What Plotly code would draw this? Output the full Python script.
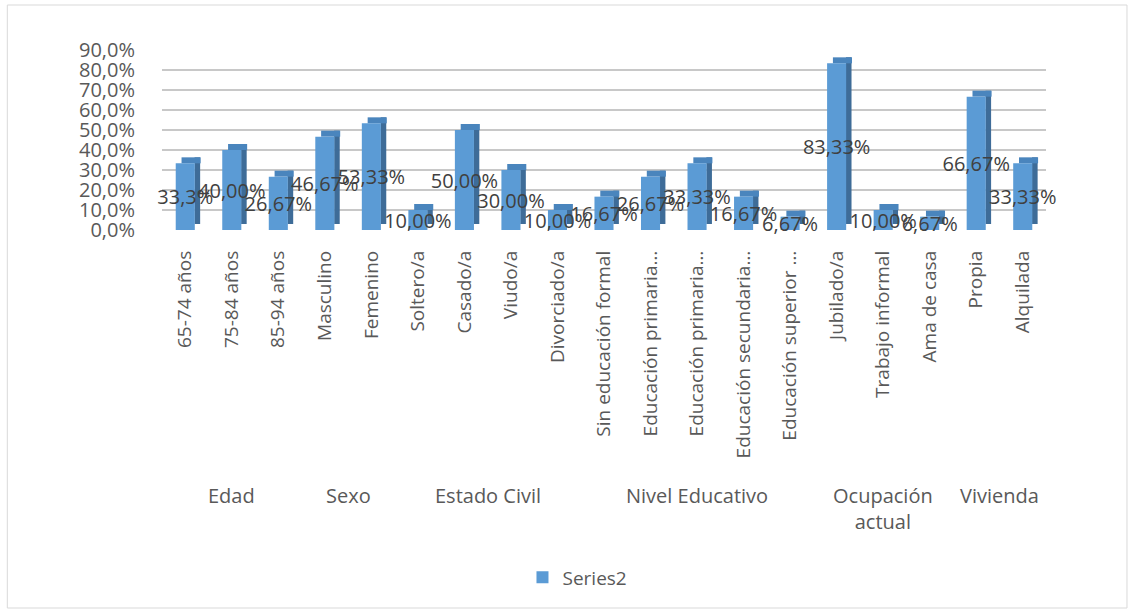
import plotly.graph_objects as go

categories = ["65-74 años", "75-84 años", "85-94 años", "Masculino", "Femenino",
              "Soltero/a", "Casado/a", "Viudo/a", "Divorciado/a",
              "Sin educación formal", "Educación primaria…", "Educación primaria…",
              "Educación secundaria…", "Educación superior …",
              "Jubilado/a", "Trabajo informal", "Ama de casa", "Propia", "Alquilada"]
values = [33.33, 40.00, 26.67, 46.67, 53.33, 10.00, 50.00, 30.00, 10.00,
          16.67, 26.67, 33.33, 16.67, 6.67, 83.33, 10.00, 6.67, 66.67, 33.33]
value_labels = ["33,3%", "40,00%", "26,67%", "46,67%", "53,33%", "10,00%", "50,00%",
                "30,00%", "10,00%", "16,67%", "26,67%", "33,33%", "16,67%", "6,67%",
                "83,33%", "10,00%", "6,67%", "66,67%", "33,33%"]
groups = ["Edad", "Sexo", "Estado Civil", "Nivel Educativo", "Ocupación<br>actual", "Vivienda"]
group_sizes = [3, 2, 4, 5, 3, 2]
y_ticks = [0, 10, 20, 30, 40, 50, 60, 70, 80, 90]
y_tick_labels = ["0,0%", "10,0%", "20,0%", "30,0%", "40,0%", "50,0%", "60,0%", "70,0%", "80,0%", "90,0%"]

FONT = "Open Sans"
FRONT = "#5B9BD5"
SIDE = "#3E6C98"
TOP = "#4A85BD"
DEPTH = 3.0
idx = list(range(len(categories)))

fig = go.Figure()
# side face (depth effect)
fig.add_trace(go.Bar(x=idx, y=values, base=DEPTH, width=0.12, offset=0.2,
                     marker=dict(color=SIDE, line=dict(width=0)),
                     showlegend=False, hoverinfo="skip"))
# top face (depth effect)
fig.add_trace(go.Bar(x=idx, y=[DEPTH] * len(values), base=values, width=0.41, offset=-0.08,
                     marker=dict(color=TOP, line=dict(width=0)),
                     showlegend=False, hoverinfo="skip"))
# front face
fig.add_trace(go.Bar(x=idx, y=values, width=0.41, offset=-0.205, name="Series2",
                     marker=dict(color=FRONT, line=dict(width=0)),
                     text=value_labels, textposition="inside", insidetextanchor="middle",
                     textangle=0, constraintext="none", cliponaxis=False,
                     textfont=dict(family=FONT, size=20, color="#404040")))

# group labels
start = 0
for g, n in zip(groups, group_sizes):
    center = start + (n - 1) / 2
    fig.add_annotation(x=center, xref="x", y=-1.39, yref="paper", text=g,
                       showarrow=False, yanchor="top",
                       font=dict(family=FONT, size=20, color="#595959"))
    start += n

# chart border
fig.add_shape(type="rect", xref="paper", yref="paper",
              x0=-0.175, x1=1.0916, y0=-2.1, y1=1.25,
              line=dict(color="#D9D9D9", width=1), layer="below")

fig.update_layout(
    width=1134, height=614,
    margin=dict(l=162, r=88, t=50, b=384),
    barmode="overlay",
    plot_bgcolor="white", paper_bgcolor="white",
    font=dict(family=FONT, color="#595959"),
    showlegend=True,
    legend=dict(orientation="h", x=0.47, xanchor="center", y=-1.93, yanchor="middle",
                font=dict(family=FONT, size=19, color="#595959")),
    xaxis=dict(tickmode="array", tickvals=idx, ticktext=categories, tickangle=-90,
               range=[-0.5, len(categories) - 0.5], showgrid=False, zeroline=False,
               showline=False, ticks="", ticklabelstandoff=16,
               tickfont=dict(family=FONT, size=19, color="#595959")),
    yaxis=dict(range=[0, 90], tickmode="array", tickvals=y_ticks, ticktext=y_tick_labels,
               showgrid=True, gridcolor="#C8C8C8", gridwidth=2, zeroline=False,
               showline=False, ticks="", ticklabelstandoff=26,
               tickfont=dict(family=FONT, size=20, color="#595959")),
)

fig.write_html("out.html")
